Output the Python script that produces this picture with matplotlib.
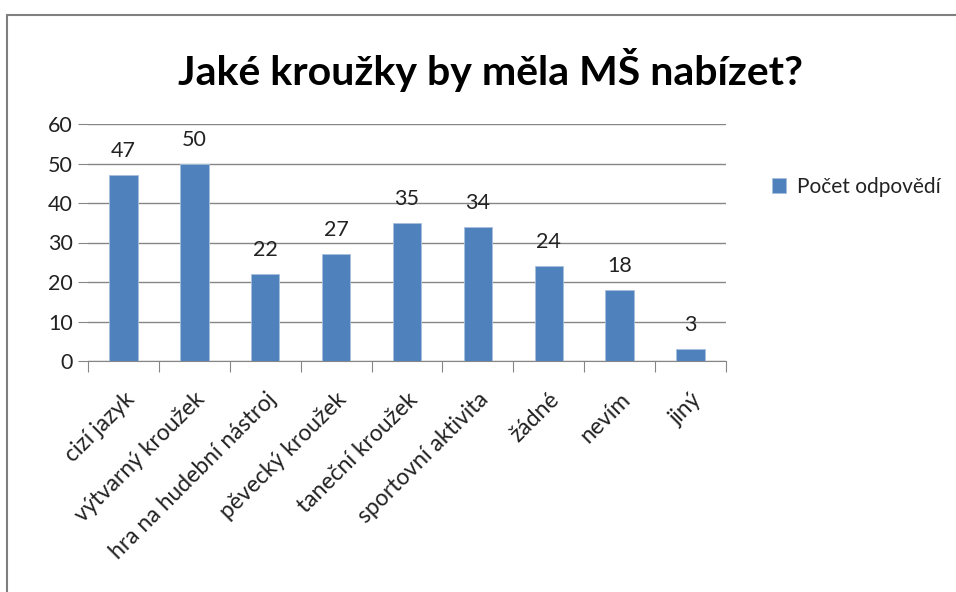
import matplotlib.pyplot as plt
from matplotlib.patches import Rectangle

categories = ['cizí jazyk', 'výtvarný kroužek', 'hra na hudební nástroj', 'pěvecký kroužek',
              'taneční kroužek', 'sportovní aktivita', 'žádné', 'nevím', 'jiný']
values = [47, 50, 22, 27, 35, 34, 24, 18, 3]
series_name = 'Počet odpovědí'
yticks = [0, 10, 20, 30, 40, 50, 60]

bar_color = '#4F81BD'
grid_color = '#868686'
text_color = '#222222'
plt.rcParams['font.family'] = ['Lato', 'DejaVu Sans']

fig = plt.figure(figsize=(9.56, 5.92), dpi=100)
ax = fig.add_axes([88/956, 1-361/592, (726-88)/956, (361-124)/592])

x = range(len(categories))
bars = ax.bar(x, values, width=0.4, color=bar_color, edgecolor='#A7C0DE', linewidth=0.6,
              label=series_name, zorder=3)
for xi, v in zip(x, values):
    ax.annotate(str(v), (xi, v), xytext=(0, 10), textcoords='offset points',
                ha='center', va='bottom', fontsize=15.5, color=text_color)

ax.set_xlim(-0.5, len(categories) - 0.5)
ax.set_ylim(0, 60)
ax.set_yticks(yticks)
ax.yaxis.grid(True, color=grid_color, linewidth=1, zorder=0)
ax.tick_params(axis='y', length=7, color=grid_color, labelsize=15.5, labelcolor=text_color, pad=4)
ax.set_xticks([i - 0.5 for i in range(len(categories) + 1)], minor=False)
ax.set_xticklabels([])
ax.tick_params(axis='x', length=8, color=grid_color)
ax.set_xticks(list(x), minor=True)
ax.set_xticklabels(categories, minor=True, rotation=45, ha='right', va='top',
                   rotation_mode='anchor', fontsize=16.5, color=text_color)
ax.tick_params(axis='x', which='minor', length=0, pad=20)
for s in ['top', 'right', 'left']:
    ax.spines[s].set_visible(False)
ax.spines['bottom'].set_color(grid_color)

fig.text(491/956, 1-70/592, 'Jaké kroužky by měla MŠ nabízet?', ha='center', va='center',
         fontsize=29.5, fontweight='bold', color='black')

fig.legend(handles=[bars], labels=[series_name], loc='center left',
           bbox_to_anchor=(753/956, 1-187/592), frameon=False, fontsize=15,
           handlelength=0.7, handleheight=0.7, handletextpad=0.5, labelcolor=text_color)

fig.patches.append(Rectangle((7/956, -0.1), 1.2, 0.1 + (592-15)/592, transform=fig.transFigure,
                             fill=False, edgecolor='#7F7F7F', linewidth=1.5))

fig.savefig('out.png', dpi=100)
